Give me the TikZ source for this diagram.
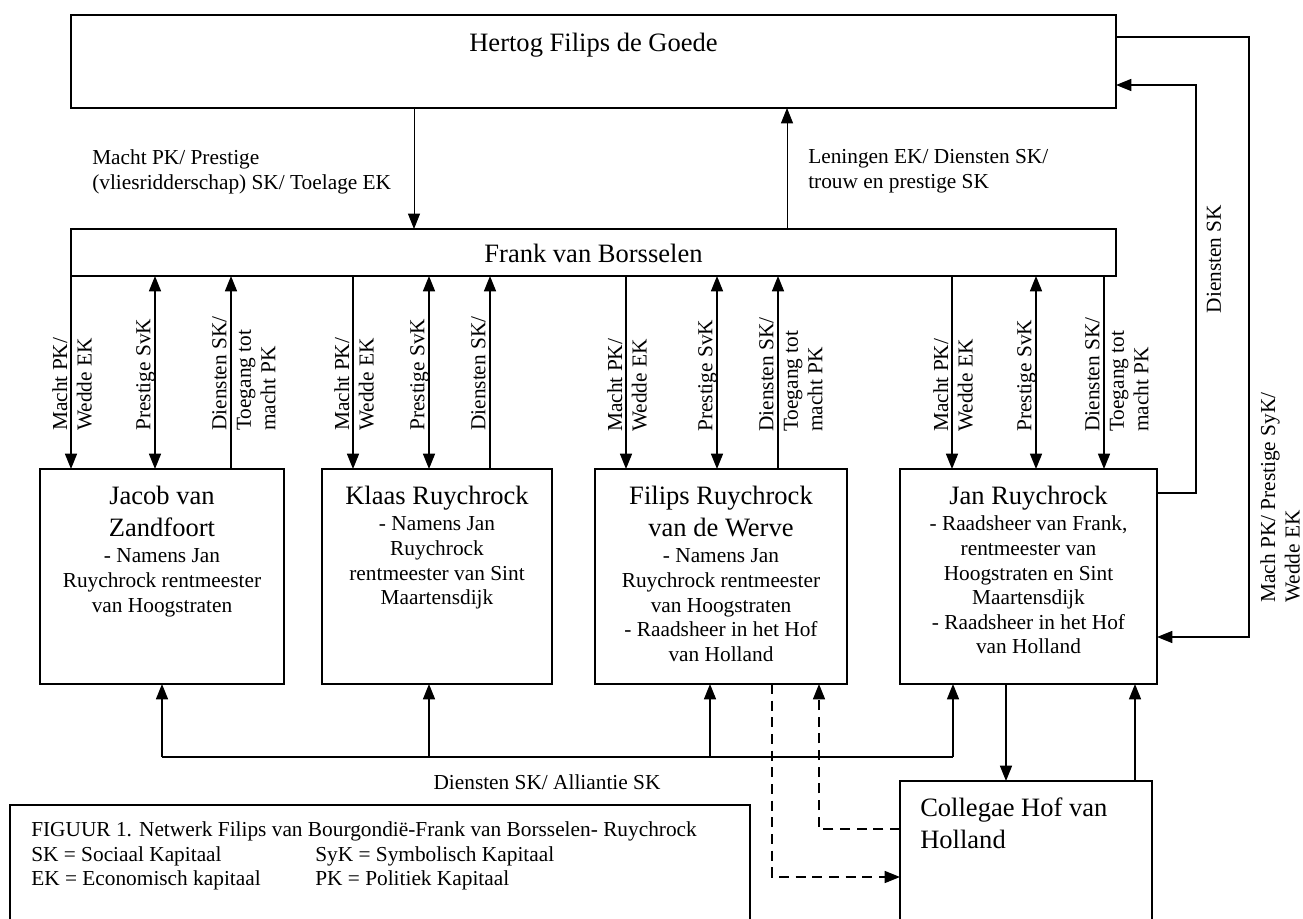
\documentclass[tikz,border=0pt]{standalone}
\usepackage{fontspec}
\setmainfont{Liberation Serif}
\usetikzlibrary{arrows.meta}
\newcommand\namefont{\fontsize{19.9pt}{24pt}\selectfont}
\newcommand\smallfnt{\fontsize{16pt}{18.4pt}\selectfont}
\begin{document}
\begin{tikzpicture}[x=0.75pt,y=-0.75pt,
  box/.style={draw, line width=1.2pt, rectangle, inner sep=0pt, outer sep=0pt},
  ar/.style={line width=1.1pt, -{Triangle[length=11.5pt,width=9pt]}},
  arboth/.style={line width=1.1pt, {Triangle[length=11.5pt,width=9pt]}-{Triangle[length=11.5pt,width=9pt]}},
  arthin/.style={line width=0.7pt, -{Triangle[length=11.5pt,width=9pt]}},
  plain/.style={line width=1.1pt},
  dashpat/.style={dash pattern=on 7.5pt off 5pt},
  txt/.style={inner sep=0pt, align=center, font=\smallfnt},
  vlab/.style={rotate=90, anchor=north west, align=left, inner sep=0pt, font=\smallfnt},
  hlab/.style={anchor=north west, align=left, inner sep=0pt, font=\smallfnt}
]
\useasboundingbox (0,0) rectangle (1303,919);
\fill[white] (0,0) rectangle (1303,919);

% boxes
\node[box, minimum width=783.75pt, minimum height=69.75pt] (hertog) at (593.5,61.5) {};
\node[box, minimum width=783.75pt, minimum height=35.25pt] (frank) at (593.5,252.5) {};
\node[box, minimum width=183pt, minimum height=161.25pt] (jacob) at (162,576.5) {};
\node[box, minimum width=172.5pt, minimum height=161.25pt] (klaas) at (437,576.5) {};
\node[box, minimum width=189pt, minimum height=161.25pt] (filips) at (721,576.5) {};
\node[box, minimum width=192.75pt, minimum height=161.25pt] (jan) at (1028.5,576.5) {};
\node[box, minimum width=189pt, minimum height=108pt] (collegae) at (1026,853) {};
\node[box, minimum width=555pt, minimum height=90pt] (legend) at (380,865) {};

% box texts
\node[inner sep=0pt, anchor=base, font=\namefont] (hertogT) at (593.5,52) {Hertog Filips de Goede};
\node[inner sep=0pt, anchor=base, font=\namefont] (frankT) at (593.5,263) {Frank van Borsselen};
\node[txt, anchor=north] (jacobT) at (162,486) {{\namefont Jacob van}\\[5.6pt]{\namefont Zandfoort}\\[1.3pt]- Namens Jan\\Ruychrock rentmeester\\van Hoogstraten};
\node[txt, anchor=north] (klaasT) at (437,486) {{\namefont Klaas Ruychrock}\\[1.3pt]- Namens Jan\\Ruychrock\\rentmeester van Sint\\Maartensdijk};
\node[txt, anchor=north] (filipsT) at (721,486) {{\namefont Filips Ruychrock}\\[5.6pt]{\namefont van de Werve}\\[1.3pt]- Namens Jan\\Ruychrock rentmeester\\van Hoogstraten\\- Raadsheer in het Hof\\van Holland};
\node[txt, anchor=north] (janT) at (1028.5,486) {{\namefont Jan Ruychrock}\\[1.3pt]- Raadsheer van Frank,\\rentmeester van\\Hoogstraten en Sint\\Maartensdijk\\- Raadsheer in het Hof\\van Holland};
\node[inner sep=0pt, anchor=north west, align=left, font=\namefont] (collegaeT) at (920,797.7) {Collegae Hof van\\Holland};
\node[hlab] (legendT) at (31,821.5) {FIGUUR 1. Netwerk Filips van Bourgondië-Frank van Borsselen- Ruychrock\\
\makebox[213pt][l]{SK = Sociaal Kapitaal}SyK = Symbolisch Kapitaal\\
\makebox[213pt][l]{EK = Economisch kapitaal}PK = Politiek Kapitaal};

% Hertog <-> Frank
\draw[arthin] (414,0 |- hertog.south) -- (414,0 |- frank.north);
\draw[arthin] (787,0 |- frank.north) -- (787,0 |- hertog.south);
\node[hlab] (labdown) at (92,149.5) {Macht PK/ Prestige\\(vliesridderschap) SK/ Toelage EK};
\node[hlab] (labup) at (808,149.5) {Leningen EK/ Diensten SK/\\trouw en prestige SK};

% group 1 (Jacob)
\draw[ar] (71,0 |- frank.south) -- (71,0 |- jacob.north);
\draw[arboth] (155,0 |- frank.south) -- (155,0 |- jacob.north);
\draw[ar] (231,0 |- jacob.north) -- (231,0 |- frank.south);
\node[vlab] (l1a) at (52,431) {Macht PK/\\Wedde EK};
\node[vlab] (l1b) at (136,431) {Prestige SvK};
\node[vlab] (l1c) at (212,431) {Diensten SK/\\Toegang tot\\macht PK};

% group 2 (Klaas)
\draw[ar] (353,0 |- frank.south) -- (353,0 |- klaas.north);
\draw[arboth] (429,0 |- frank.south) -- (429,0 |- klaas.north);
\draw[ar] (490,0 |- klaas.north) -- (490,0 |- frank.south);
\node[vlab] (l2a) at (334,431) {Macht PK/\\Wedde EK};
\node[vlab] (l2b) at (410,431) {Prestige SvK};
\node[vlab] (l2c) at (471,431) {Diensten SK/};

% group 3 (Filips)
\draw[ar] (626,0 |- frank.south) -- (626,0 |- filips.north);
\draw[arboth] (717,0 |- frank.south) -- (717,0 |- filips.north);
\draw[ar] (778,0 |- filips.north) -- (778,0 |- frank.south);
\node[vlab] (l3a) at (607,432) {Macht PK/\\Wedde EK};
\node[vlab] (l3b) at (698,432) {Prestige SvK};
\node[vlab] (l3c) at (759,432) {Diensten SK/\\Toegang tot\\macht PK};

% group 4 (Jan)
\draw[ar] (952,0 |- frank.south) -- (952,0 |- jan.north);
\draw[arboth] (1036,0 |- frank.south) -- (1036,0 |- jan.north);
\draw[ar] (1104,0 |- frank.south) -- (1104,0 |- jan.north);
\node[vlab] (l4a) at (933,432) {Macht PK/\\Wedde EK};
\node[vlab] (l4b) at (1017,432) {Prestige SvK};
\node[vlab] (l4c) at (1085,432) {Diensten SK/\\Toegang tot\\macht PK};

% bottom bus
\coordinate (busL) at (162,757);
\coordinate (busR) at (953,757);
\draw[plain] (busL) -- (busR);
\draw[ar] (busL) -- (busL |- jacob.south);
\draw[ar] (429,757) -- (429,0 |- klaas.south);
\draw[ar] (710,757) -- (710,0 |- filips.south);
\draw[ar] (busR) -- (busR |- jan.south);
\node[inner sep=0pt, anchor=base, font=\smallfnt] (busT) at (547,789) {Diensten SK/ Alliantie SK};

% Jan <-> Collegae
\draw[ar] (1006,0 |- jan.south) -- (1006,0 |- collegae.north);
\draw[ar] (1135,0 |- collegae.north) -- (1135,0 |- jan.south);

% dashed Filips <-> Collegae
\draw[ar, dashpat] (772,0 |- filips.south) |- (collegae.west |- 0,877);
\draw[ar, dashpat] (collegae.west |- 0,829) -| (819,0 |- filips.south);

% right side loops
\draw[ar] (hertog.east |- 0,37) -| (1249,637) -- (jan.east |- 0,637);
\draw[ar] (jan.east |- 0,493) -| (1196,85) -- (hertog.east |- 0,85);
\node[rotate=90, inner sep=0pt, font=\smallfnt] (dienstT) at (1214,259) {Diensten SK};
\node[vlab] (machT) at (1260,603) {Mach PK/ Prestige SyK/\\Wedde EK};
\end{tikzpicture}
\end{document}
